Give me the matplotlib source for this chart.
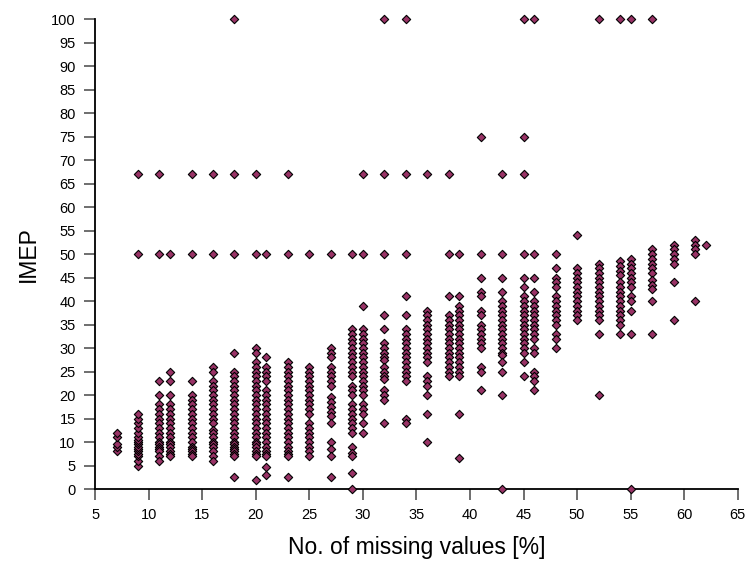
import matplotlib
matplotlib.use('Agg')
import matplotlib.pyplot as plt

plt.rcParams['font.family'] = ['Liberation Sans', 'DejaVu Sans']

# IMEP values per column (x = missing values in %)
col_07 = [8, 9, 9.5, 11, 12]
col_09 = [5, 6, 7, 7.5, 8, 8.5, 9, 9.5, 10, 10.5, 11, 12, 13, 14, 15, 16]
col_11 = [23, 20, 18, 17, 16, 15, 14, 13, 12, 11, 10, 9.5, 9, 8.5, 8, 7, 6]
col_12 = [25, 23, 20, 18, 17, 16, 15, 14, 13, 12, 11, 10, 9.5, 9, 8, 7.5, 7]
col_14 = [23, 20, 19, 18, 17, 16, 15, 14, 13, 12, 11, 10, 9, 8.5, 8, 7.5, 7]
col_16 = [26, 25, 23, 22, 21, 20, 19, 18, 17, 16, 15, 14, 12.5, 12, 11, 10, 9.5, 9, 8, 7, 6]
col_18 = [29, 25, 24, 23, 22, 21, 20, 19, 18, 17, 16, 15, 14, 13, 12, 11, 10, 9.5, 9, 8.5,
          8, 7.5, 7, 2.5]
col_20 = [30, 29, 27, 26, 25, 24, 23, 22, 21, 20, 19, 18, 17, 16, 15, 14, 13, 12, 11, 10,
          9.5, 9, 8, 7.5, 7, 2]
col_21 = [28, 26, 25, 24, 23, 21, 20, 19, 18, 17, 16, 15, 14, 13, 12, 11, 10, 9, 8, 7.5,
          7, 4.7, 3]
col_23 = [27, 26, 25, 24, 23, 22, 21, 20, 19, 18, 17, 16, 15, 14, 13, 12, 11, 10, 9, 8,
          7.5, 7, 2.5]
col_25 = [26, 25, 24, 23, 22, 21, 20, 19, 18, 17, 16, 14, 13, 12, 11, 10, 9, 8, 7]
col_27 = [30, 29, 28, 26, 25, 24, 23, 22, 19.5, 18.5, 17.5, 16.5, 15.5, 14, 10, 8.5, 7, 2.5]
col_29 = [34, 33, 32, 31, 30, 29, 28, 27, 26, 25, 24, 22, 21, 20, 18, 17, 16, 15, 14, 13,
          12, 9, 7.7, 7, 3.5, 0]
col_30 = [39, 34, 33, 32, 31, 30, 29, 28, 27, 26, 25, 24, 23, 22, 21, 20, 18, 17, 16, 14, 12]
col_32 = [37, 34, 31, 30, 29, 28, 27.5, 26, 25, 24, 23.5, 21, 20, 19, 14]
col_34 = [41, 37, 34, 33, 32, 31, 30, 29, 28, 27, 26, 25, 24, 23, 15, 14]
col_36 = [38, 37, 36, 35, 34, 33, 32, 31, 30, 29, 28, 27, 24, 23, 22, 20, 16, 10]
col_38 = [41, 37, 36, 35, 34, 33, 32, 31, 30, 29, 28, 27, 26, 25, 24]
col_39 = [41, 39, 38, 37, 36, 35, 34, 33, 32, 31, 30, 29, 28, 27, 26, 25, 24, 16, 6.5]
col_41 = [45, 42, 41, 38, 37, 35, 34, 33, 32, 31, 30, 26, 25, 21]
col_43 = [45, 42, 40, 39, 38, 37, 36, 35, 34, 33, 32, 31, 30, 29, 28.5, 27, 25, 20, 0]
col_45 = [45, 43, 41, 40, 39, 38, 37, 36, 35, 34, 33, 32, 31, 30, 29, 27, 24]
col_46 = [45, 42, 40, 39, 38, 37, 36, 35, 34, 33, 32, 30, 29, 25, 24, 23, 21]
col_48 = [47, 45, 44, 43, 41, 40, 39, 38, 37, 36, 35, 33, 32, 30]
col_50 = [54, 47, 46, 45, 44, 43, 42, 41, 40, 39, 38, 37, 36]
col_52 = [48, 47, 46, 45, 44, 43, 42, 41, 40, 39, 38, 37, 36, 33, 20]
col_54 = [48.5, 47.5, 46.5, 45.5, 44, 43, 42, 41, 40, 39, 38, 37, 36, 35, 33]
col_55 = [49, 48, 47, 46, 45, 44, 43, 41, 40, 38, 33, 0]
col_57 = [51, 50, 49, 48, 47, 46, 44.5, 43.5, 42.5, 40, 33]
col_59 = [52, 51, 50, 49, 48, 44, 36]
col_61 = [53, 52, 51, 50, 40]
col_62 = [52]

columns = [(7, col_07), (9, col_09), (11, col_11), (12, col_12), (14, col_14),
           (16, col_16), (18, col_18), (20, col_20), (21, col_21), (23, col_23),
           (25, col_25), (27, col_27), (29, col_29), (30, col_30), (32, col_32),
           (34, col_34), (36, col_36), (38, col_38), (39, col_39), (41, col_41),
           (43, col_43), (45, col_45), (46, col_46), (48, col_48), (50, col_50),
           (52, col_52), (54, col_54), (55, col_55), (57, col_57), (59, col_59),
           (61, col_61), (62, col_62)]

# horizontal "rows" of repeated IMEP values
row_50_x = [9, 11, 12, 14, 16, 18, 20, 21, 23, 25, 27, 29, 30, 32, 34, 38, 39, 41, 43, 45, 46, 48]
row_67_x = [9, 11, 14, 16, 18, 20, 23, 30, 32, 34, 36, 38, 43, 45]
row_75_x = [41, 45]
row_100_x = [18, 32, 34, 45, 46, 52, 54, 55, 57]
rows = [(50, row_50_x), (67, row_67_x), (75, row_75_x), (100, row_100_x)]

xs, ys = [], []
for x, vals in columns:
    xs += [x] * len(vals)
    ys += vals
for y, xvals in rows:
    xs += xvals
    ys += [y] * len(xvals)

fig = plt.figure(figsize=(7.49, 5.66), dpi=100)
ax = fig.add_axes([0.127, 0.136, 0.858, 0.830])

ax.scatter(xs, ys, marker='D', s=18, facecolor='#993366', edgecolor='black',
           linewidth=0.8, clip_on=False, zorder=3)

ax.set_xlim(5, 65)
ax.set_ylim(0, 100)
ax.set_xticks(range(5, 66, 5))
ax.set_yticks(range(0, 101, 5))

for s in ['top', 'right']:
    ax.spines[s].set_visible(False)
for s in ['left', 'bottom']:
    ax.spines[s].set_linewidth(1.3)
ax.tick_params(axis='both', direction='out', length=8, width=1.2, color='#555555',
               labelsize=10.5, pad=6)

ax.set_xlabel('No. of missing values [%]', fontsize=16.5, labelpad=10)
ax.set_ylabel('IMEP', fontsize=16.5, labelpad=8)

fig.savefig('out.png', dpi=100)
